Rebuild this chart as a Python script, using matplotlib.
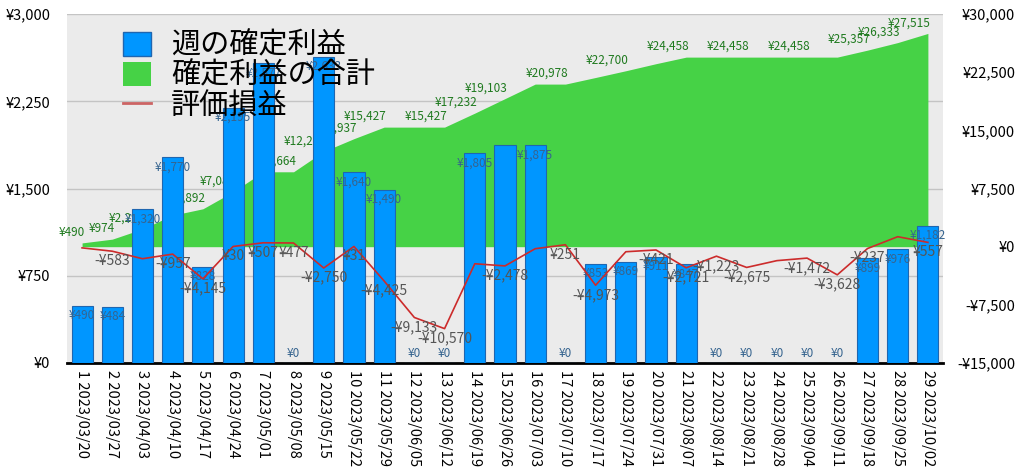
import matplotlib
matplotlib.use('Agg')
import matplotlib.pyplot as plt
from matplotlib.patches import Patch
from matplotlib.lines import Line2D
from matplotlib.ticker import FuncFormatter

plt.rcParams['font.family'] = ['Noto Sans CJK JP', 'DejaVu Sans']

# data
weeks = ['2023/03/20', '2023/03/27', '2023/04/03', '2023/04/10', '2023/04/17', '2023/04/24',
         '2023/05/01', '2023/05/08', '2023/05/15', '2023/05/22', '2023/05/29', '2023/06/05',
         '2023/06/12', '2023/06/19', '2023/06/26', '2023/07/03', '2023/07/10', '2023/07/17',
         '2023/07/24', '2023/07/31', '2023/08/07', '2023/08/14', '2023/08/21', '2023/08/28',
         '2023/09/04', '2023/09/11', '2023/09/18', '2023/09/25', '2023/10/02']
weekly_profit = [490, 484, 1320, 1770, 828, 2195, 2577, 0, 2633, 1640, 1490, 0, 0, 1805,
                 1871, 1875, 0, 853, 869, 911, 847, 0, 0, 0, 0, 0, 899, 976, 1182]
total_profit = [490, 974, 2294, 4064, 4892, 7087, 9664, 9664, 12297, 13937, 15427, 15427,
                15427, 17232, 19103, 20978, 20978, 21831, 22700, 23611, 24458, 24458,
                24458, 24458, 24458, 24458, 25357, 26333, 27515]
unrealized = [-150, -583, -1550, -957, -4145, 30, 507, 477, -2750, 31, -4425, -9133,
              -10570, -2200, -2478, -260, 251, -4973, -650, -421, -2721, -1223, -2675,
              -1800, -1472, -3628, -237, 1290, 557]

# labels the original chart dropped because they collided
hide_bar_lbl = [14]
hide_total_lbl = [3, 6, 11, 15, 17, 19, 21, 23, 25]
hide_unreal_lbl = [0, 2, 13, 15, 18, 23, 27]

x = list(range(len(weeks)))
xlabels = [f'{i + 1} {w}' for i, w in enumerate(weeks)]

def yen(v, pos=None):
    v = int(round(v))
    return f'-¥{abs(v):,}' if v < 0 else f'¥{v:,}'

fig = plt.figure(figsize=(10.24, 4.72), dpi=100)
ax = fig.add_axes([0.0654, 0.231, 0.8555, 0.739])
ax.set_facecolor('#ebebeb')
ax.set_xlim(-0.5, len(weeks) - 0.5)
ax.set_ylim(0, 3000)
ax.set_yticks([0, 750, 1500, 2250, 3000])
ax.yaxis.set_major_formatter(FuncFormatter(yen))
for v in [750, 1500, 2250, 3000]:
    ax.axhline(v, color='#c4c4c4', lw=1, zorder=0)
ax.set_xticks(x)
ax.set_xticklabels(xlabels, rotation=270, fontsize=10)
ax.tick_params(axis='both', length=0, labelsize=10.5)
ax.tick_params(axis='y', pad=12)
ax.tick_params(axis='x', pad=5)
for s in ['top', 'left', 'right']:
    ax.spines[s].set_visible(False)
ax.spines['bottom'].set_color('black')
ax.spines['bottom'].set_linewidth(2)

# cumulative profit area (right scale)
axr = ax.twinx()
axr.set_ylim(-15000, 30000)
axr.set_yticks(range(-15000, 30001, 7500))
axr.yaxis.set_major_formatter(FuncFormatter(yen))
axr.tick_params(axis='y', length=0, labelsize=10.5, pad=52)
for lbl in axr.get_yticklabels():
    lbl.set_horizontalalignment('right')
for s in axr.spines.values():
    s.set_visible(False)
axr.fill_between(x, 0, total_profit, color='#46d246', lw=0)
for i, v in enumerate(total_profit):
    if i in hide_total_lbl:
        continue
    axr.annotate(yen(v), (i, v), xytext=(2, 3), textcoords='offset points',
                 ha='right', va='bottom', fontsize=8.5, color='#1f7a1f')

# weekly bars (left scale)
axb = ax.twinx()
axb.set_ylim(0, 3000)
axb.set_yticks([])
for s in axb.spines.values():
    s.set_visible(False)
axb.bar(x, weekly_profit, width=0.7, color='#0096ff', edgecolor='#1f66b0', lw=0.8)
for i, v in enumerate(weekly_profit):
    if i in hide_bar_lbl:
        continue
    off = -7 if v > 0 else 7
    axb.annotate(yen(v), (i, v), xytext=(0, off), textcoords='offset points',
                 ha='center', va='center', fontsize=8.5, color='#36648f')

# unrealized P/L line (right scale)
axl = ax.twinx()
axl.set_ylim(-15000, 30000)
axl.set_yticks([])
for s in axl.spines.values():
    s.set_visible(False)
axl.plot(x, unrealized, color='#cc2b2b', lw=1.2)
for i, v in enumerate(unrealized):
    if i in hide_unreal_lbl:
        continue
    axl.annotate(yen(v), (i, v), xytext=(0, -2), textcoords='offset points',
                 ha='center', va='top', fontsize=10, color='#555555')

handles = [Patch(facecolor='#0096ff', edgecolor='#1f66b0'),
           Patch(facecolor='#46d246'),
           Line2D([], [], color='#cc6464', lw=2)]
axl.legend(handles, ['週の確定利益', '確定利益の合計', '評価損益'],
           loc='upper left', bbox_to_anchor=(0.064, 0.952), frameon=False,
           fontsize=21, handlelength=0.95, handleheight=0.9, labelspacing=0.0,
           handletextpad=0.7, borderpad=0, borderaxespad=0)

fig.savefig('out.png', dpi=100)
